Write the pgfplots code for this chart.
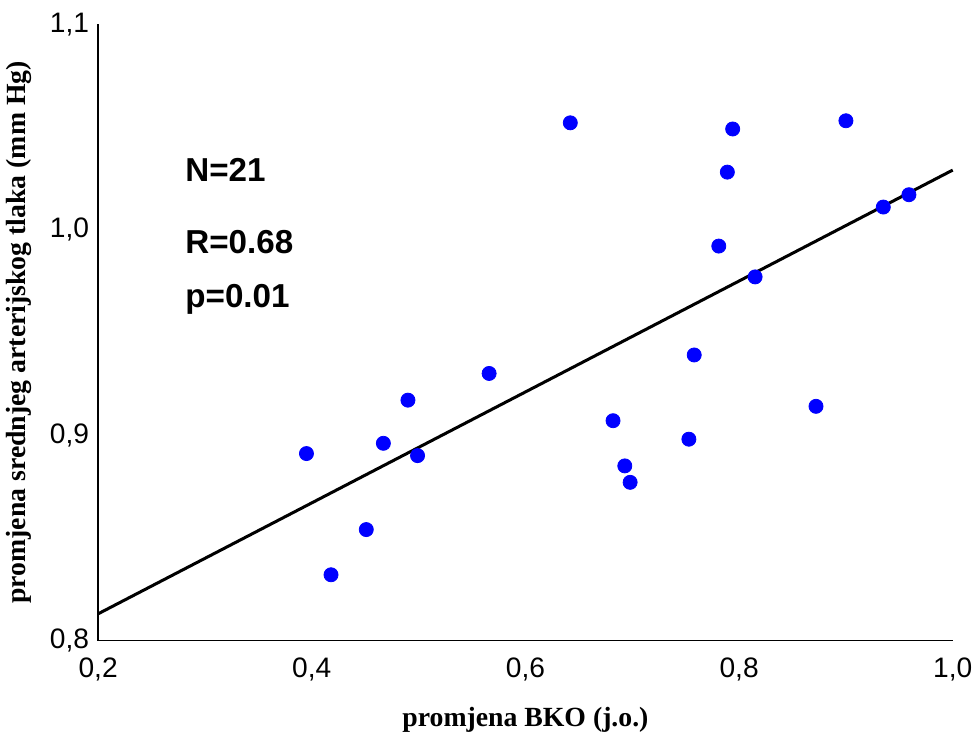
\documentclass[border=0pt]{standalone}
\usepackage{pgfplots}
\pgfplotsset{compat=1.18}
\usepackage{fontspec}
\setmainfont{Liberation Sans}
\newfontfamily\seriffont{Liberation Serif}
\begin{document}
\begin{tikzpicture}
\begin{axis}[
  scale only axis,
  width=425pt, height=306.5pt,
  xmin=0.2, xmax=1.0, ymin=0.8, ymax=1.1,
  axis lines=left,
  axis line style={-, line width=0.8pt},
  xtick={0.2,0.4,0.6,0.8,1.0},
  ytick={0.8,0.9,1.0,1.1},
  major tick length=0pt,
  /pgf/number format/assume math mode=true,
  /pgf/number format/use comma,
  /pgf/number format/fixed,
  /pgf/number format/fixed zerofill,
  /pgf/number format/precision=1,
  tick label style={font=\fontsize{14}{16}\selectfont},
  xticklabel style={yshift=-5pt},
  yticklabel style={xshift=-1pt},
  xlabel={\seriffont\bfseries promjena BKO (j.o.)},
  ylabel={\seriffont\bfseries promjena srednjeg arterijskog tlaka (mm Hg)},
  label style={font=\fontsize{13.8}{15}\selectfont},
  xlabel style={yshift=-6pt},
  ylabel style={yshift=2pt},
  clip=false,
]
\addplot[only marks, mark=*, mark size=3.5pt, blue, mark options={fill=blue, draw=blue}] coordinates {
(0.395,0.891) (0.418,0.832) (0.451,0.854) (0.467,0.896) (0.490,0.917)
(0.499,0.890) (0.566,0.930) (0.642,1.052) (0.682,0.907) (0.693,0.885)
(0.698,0.877) (0.753,0.898) (0.758,0.939) (0.781,0.992) (0.789,1.028)
(0.794,1.049) (0.815,0.977) (0.872,0.914) (0.900,1.053) (0.935,1.011)
(0.959,1.017)
};
\addplot[black, line width=1.5pt] coordinates {(0.2,0.813) (1.0,1.029)};
\node[anchor=west, font=\fontsize{16.5}{18}\selectfont\bfseries] at (axis cs:0.275,1.029) {N=21};
\node[anchor=west, font=\fontsize{16.5}{18}\selectfont\bfseries] at (axis cs:0.275,0.994) {R=0.68};
\node[anchor=west, font=\fontsize{16.5}{18}\selectfont\bfseries] at (axis cs:0.275,0.966) {p=0.01};
\end{axis}
\path (current axis.outer north) ++(0,3pt);
\end{tikzpicture}
\end{document}
